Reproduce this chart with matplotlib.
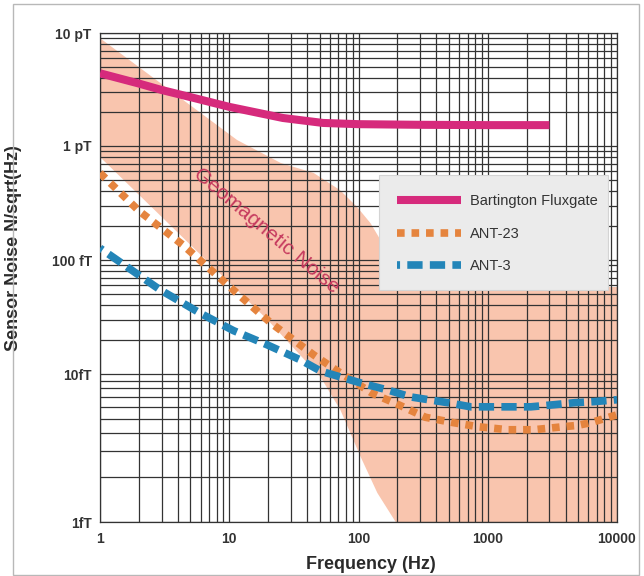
import numpy as np
import matplotlib
matplotlib.use("Agg")
import matplotlib.pyplot as plt
from matplotlib.patches import Rectangle
from matplotlib.ticker import LogLocator, NullFormatter

plt.rcParams["font.family"] = ["Liberation Sans", "DejaVu Sans"]

# values (frequency in Hz, noise in tesla)
fluxgate_f = [1, 2, 3, 5, 10, 26, 53, 100, 300, 1000, 3000]
fluxgate_n = [4.4e-12, 3.57e-12, 3.13e-12, 2.71e-12, 2.22e-12, 1.77e-12,
              1.6e-12, 1.56e-12, 1.54e-12, 1.53e-12, 1.53e-12]

ant23_f = [1, 2, 4.4, 11.5, 21, 45, 69, 128, 204, 330, 535, 850, 1430,
           2270, 3800, 5000, 6300, 8000, 10000]
ant23_n = [5.8e-13, 2.7e-13, 1.35e-13, 5.1e-14, 2.8e-14, 1.47e-14, 1.06e-14,
           7.4e-15, 6.2e-15, 5.1e-15, 4.7e-15, 4.4e-15, 4.2e-15, 4.2e-15,
           4.4e-15, 4.5e-15, 4.7e-15, 5.0e-15, 5.3e-15]

ant3_f = [1, 2.9, 6, 10.8, 19.7, 35.5, 51, 77, 104, 168, 253, 490, 740,
          1120, 2150, 3250, 4700, 6600, 10000]
ant3_n = [1.27e-13, 5.5e-14, 3.4e-14, 2.4e-14, 1.8e-14, 1.33e-14, 1.06e-14,
          9.4e-15, 8.7e-15, 7.8e-15, 7.0e-15, 6.4e-15, 6.0e-15, 6.0e-15,
          6.0e-15, 6.2e-15, 6.4e-15, 6.5e-15, 6.7e-15]

# geomagnetic noise band edges
geo_top_f = [1, 11.5, 25, 45, 72, 98, 124, 143, 170, 200, 260, 10000]
geo_top_n = [9.0e-12, 1.13e-12, 7.1e-13, 5.8e-13, 4.1e-13, 2.9e-13, 2.1e-13,
             1.6e-13, 1.1e-13, 7.5e-14, 5.8e-14, 5.8e-14]
geo_bot_f = [1, 2.44, 19.7, 51, 72.5, 104, 140, 194, 10000]
geo_bot_n = [8.0e-13, 3.0e-13, 3.0e-14, 9.5e-15, 5.7e-15, 2.75e-15,
             1.57e-15, 1e-15, 1e-15]

y_ticks = [1e-15, 1e-14, 1e-13, 1e-12, 1e-11]
y_ticklabels = ["1fT", "10fT", "100 fT", "1 pT", "10 pT"]
x_ticks = [1, 10, 100, 1000, 10000]
x_ticklabels = ["1", "10", "100", "1000", "10000"]

# the decades of the original y axis are not evenly spaced
DEC_LOG = [-15, -14, -13, -12, -11]
DEC_POS = [0, 148, 262, 376, 489]


def fwd(v):
    v = np.clip(np.asarray(v, dtype=float), 1e-30, None)
    return np.interp(np.log10(v), DEC_LOG, DEC_POS)


def inv(u):
    return 10 ** np.interp(u, DEC_POS, DEC_LOG)


fig = plt.figure(figsize=(6.44, 5.76), dpi=100)
fig.patches.append(Rectangle((13 / 644, 1 - 575 / 576), 626 / 644, 571 / 576,
                             transform=fig.transFigure, fill=False,
                             edgecolor="#b8b8b8", lw=1))
ax = fig.add_axes([100 / 644, 1 - 522 / 576, 517 / 644, 489 / 576])
ax.set_xscale("log")
ax.set_yscale("function", functions=(fwd, inv))
ax.set_xlim(1, 10000)
ax.set_ylim(1e-15, 1e-11)

ax.fill(np.r_[geo_top_f, geo_bot_f[::-1]], np.r_[geo_top_n, geo_bot_n[::-1]],
        color="#f9c5ae", lw=0, zorder=1)

ax.plot(fluxgate_f, fluxgate_n, color="#d62a7c", lw=5.8,
        solid_capstyle="butt", label="Bartington Fluxgate", zorder=3)
ax.plot(ant23_f, ant23_n, color="#e5843e", lw=5.5, ls=(0, (1.0, 0.9)),
        dash_capstyle="butt", label="ANT-23", zorder=3)
ax.plot(ant3_f, ant3_n, color="#2385b8", lw=5.5, ls=(1.6, (2.0, 0.95)),
        dash_capstyle="butt", label="ANT-3", zorder=3)

ax.text(19.4, 1.8e-13, "Geomagnetic Noise", rotation=-40,
        rotation_mode="anchor", ha="center", va="center",
        color="#c63a5e", fontsize=15, zorder=2)

# grid
ax.xaxis.set_minor_locator(LogLocator(base=10, subs=np.arange(2, 10), numticks=50))
ax.yaxis.set_minor_locator(LogLocator(base=10, subs=np.arange(2, 10), numticks=50))
ax.xaxis.set_minor_formatter(NullFormatter())
ax.yaxis.set_minor_formatter(NullFormatter())
ax.set_xticks(x_ticks, x_ticklabels)
ax.set_yticks(y_ticks, y_ticklabels)
ax.grid(True, which="both", color="#333333", lw=0.9, zorder=1.5)
for s in ax.spines.values():
    s.set_color("#333333")
    s.set_linewidth(0.9)
ax.tick_params(which="both", length=0)
ax.tick_params(axis="y", pad=6, labelsize=10, labelcolor="#333333")
ax.tick_params(axis="x", pad=7, labelsize=10, labelcolor="#333333")
for lab in ax.get_xticklabels() + ax.get_yticklabels():
    lab.set_fontweight("bold")

ax.set_xlabel("Frequency (Hz)", fontsize=13, fontweight="bold", color="#2a2a2a")
ax.set_ylabel("Sensor Noise N/sqrt(Hz)", fontsize=13, fontweight="bold",
              color="#2a2a2a")
ax.xaxis.set_label_coords(0.524, -0.070)
ax.yaxis.set_label_coords(-0.150, 0.56)

# legend box drawn separately so its size matches the original
ax.add_patch(Rectangle((0.540, 0.474), 0.443, 0.236, transform=ax.transAxes,
                       facecolor="#ebebeb", edgecolor="#d4d4d4", lw=0.8,
                       zorder=4))
leg = ax.legend(loc="upper left", bbox_to_anchor=(0.536, 0.710),
                borderaxespad=0, fontsize=10.5, handlelength=4.4,
                handletextpad=0.6, labelspacing=1.25, borderpad=1.35,
                frameon=False)
for t in leg.get_texts():
    t.set_color("#333333")
leg.set_zorder(5)

fig.savefig("out.png", dpi=100)
